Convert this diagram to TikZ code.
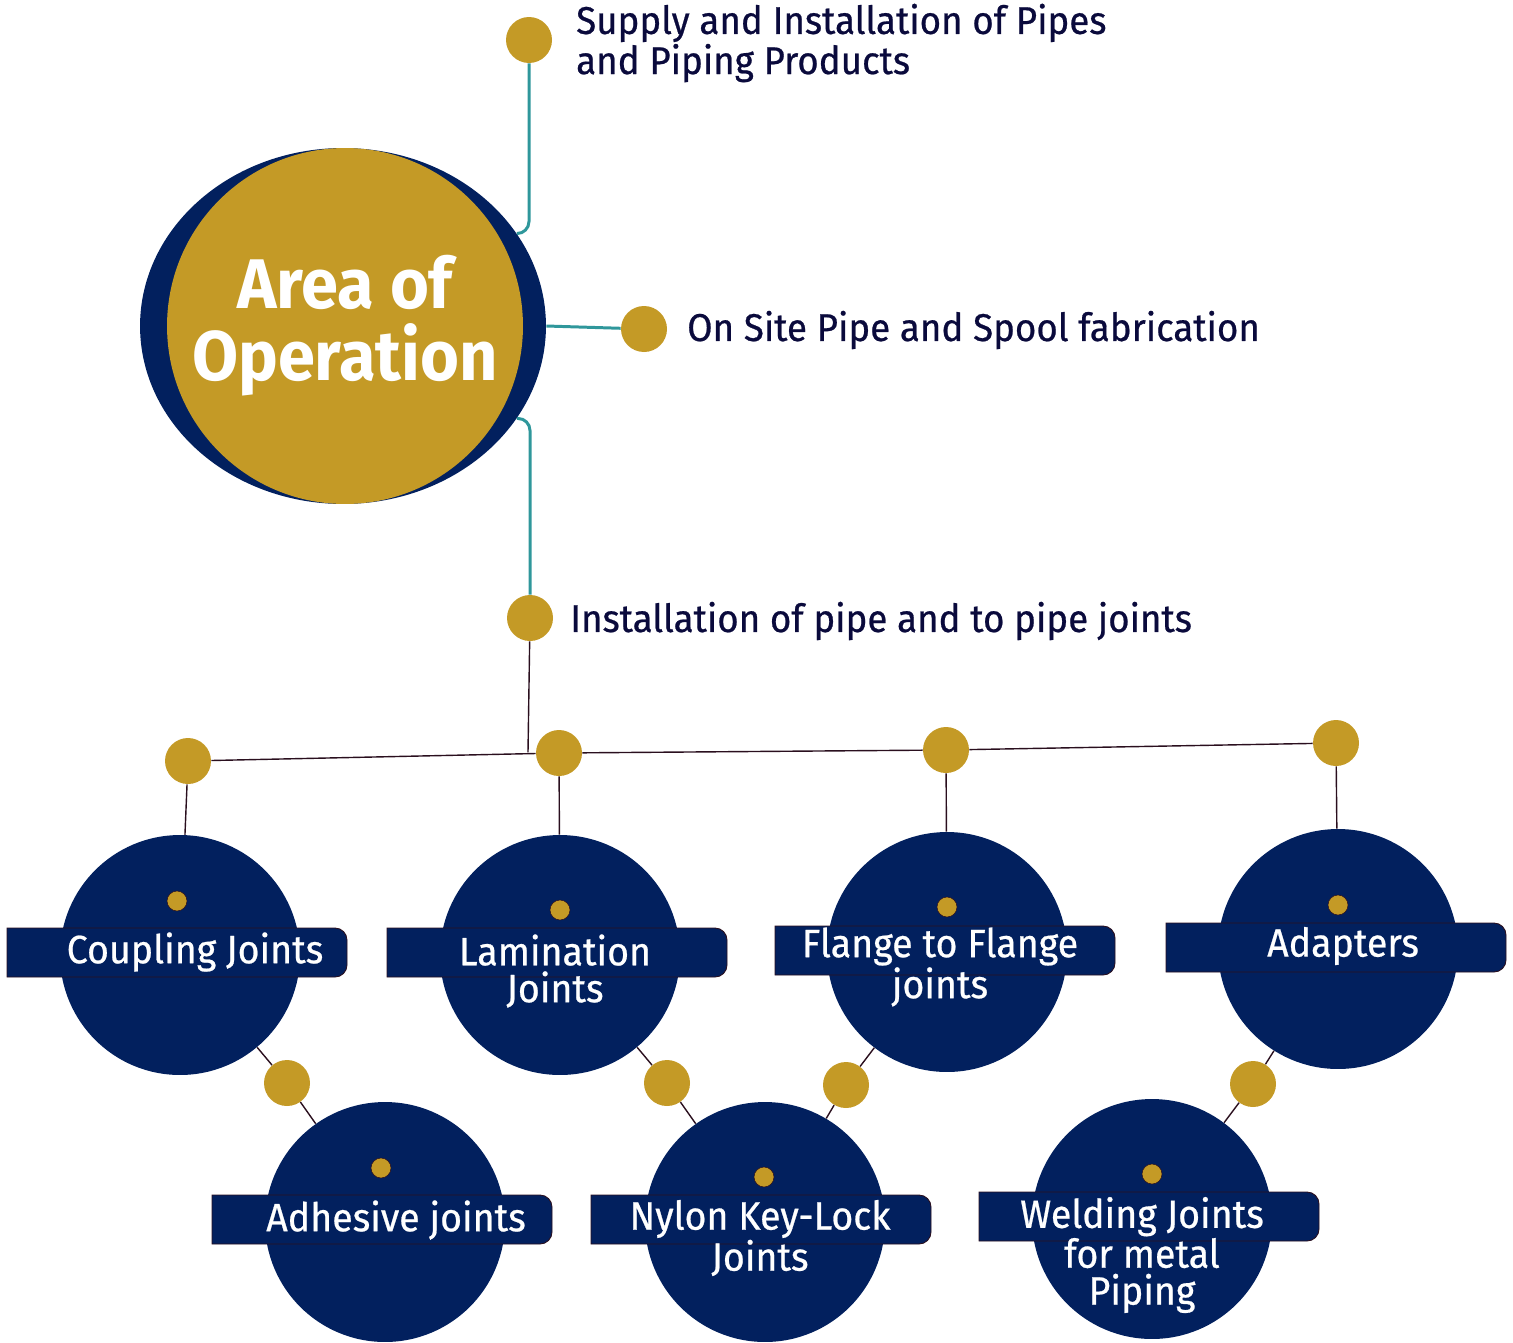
\documentclass[tikz,border=0pt]{standalone}
\usepackage{fontspec}
\setmainfont{Fira Sans}[FakeStretch=0.95,UprightFeatures={FakeBold=0.6}]
\usetikzlibrary{shapes.geometric}
\definecolor{gold}{HTML}{C49A26}
\definecolor{navy}{HTML}{02205E}
\definecolor{pipeteal}{HTML}{2F979B}
\definecolor{ink}{HTML}{0A0A3C}
\definecolor{wire}{HTML}{2A0F1E}
\newcommand\jointbar[2]{\filldraw[bar] (#1,#2) [rounded corners=2.4mm] -- ++(340,0) -- ++(0,49) [sharp corners] -- ++(-340,0) -- cycle;}
\begin{document}
\begin{tikzpicture}[x=0.02cm,y=-0.02cm,
  dot/.style={circle,fill=gold,minimum size=9.2mm,inner sep=0pt},
  pip/.style={circle,fill=gold,draw=wire,line width=0.3pt,minimum size=4mm,inner sep=0pt},
  joint/.style={circle,fill=navy,minimum size=48mm,inner sep=0pt},
  bar/.style={fill=navy,draw=wire,line width=0.5pt},
  tag/.style={text=white,align=center,font=\fontsize{22.5}{21}\selectfont},
  item/.style={text=ink,anchor=west,align=left,font=\fontsize{22}{21.5}\selectfont},
  teal/.style={draw=pipeteal,line width=1.7pt},
  tie/.style={draw=wire,line width=0.8pt}]
\useasboundingbox (0,0) rectangle (1513,1342);
\node[ellipse,fill=navy,minimum width=81.2mm,minimum height=71.2mm,inner sep=0pt] at (343,326) (ring) {};
\node[circle,fill=gold,minimum size=71.2mm,inner sep=0pt,text=white,align=center,
      font=\fontsize{40}{41}\selectfont\bfseries] at (345,326) (core) {Area of\\Operation};
\node[dot] at (529,40) (s1) {};
\node[dot] at (644,329) (s2) {};
\node[dot] at (530,618) (s3) {};
\node[item] at (570,43) (t1) {Supply and Installation of Pipes\\and Piping Products};
\node[item] at (681,330) (t2) {On Site Pipe and Spool fabrication};
\node[item] at (564,621) (t3) {Installation of pipe and to pipe joints};
\draw[teal,rounded corners=2.4mm] (ring.28) -| (s1);
\draw[teal] (ring.east) -- (s2);
\draw[teal,rounded corners=2.4mm] (ring.-28) -| (s3);
\coordinate (hub) at (528,752);
\node[dot] at (188,761) (b1) {};
\node[dot] at (559,753) (b2) {};
\node[dot] at (946,750) (b3) {};
\node[dot] at (1336,743) (b4) {};
\node[joint] at (180,955) (c1) {};
\node[joint] at (560,955) (c2) {};
\node[joint] at (947,952) (c3) {};
\node[joint] at (1338,949) (c4) {};
\node[joint] at (385,1222) (c5) {};
\node[joint] at (765,1222) (c6) {};
\node[joint] at (1152,1219) (c7) {};
\node[pip] at (177,901) (p1) {};
\node[pip] at (560,910) (p2) {};
\node[pip] at (947,907) (p3) {};
\node[pip] at (1338,905) (p4) {};
\node[pip] at (381,1168) (p5) {};
\node[pip] at (764,1177) (p6) {};
\node[pip] at (1152,1174) (p7) {};
\jointbar{7}{928}
\jointbar{387}{928}
\jointbar{775}{926}
\jointbar{1166}{923}
\jointbar{212}{1195}
\jointbar{591}{1195}
\jointbar{979}{1192}
\node[tag] at (195,952) (l1) {Coupling Joints};
\node[tag] at (555,971) (l2) {Lamination\\Joints};
\node[tag] at (940,967) (l3) {Flange to Flange\\joints};
\node[tag] at (1343,946) (l4) {Adapters};
\node[tag] at (396,1220) (l5) {Adhesive joints};
\node[tag] at (760,1238) (l6) {Nylon Key-Lock\\Joints};
\node[tag] at (1142,1255) (l7) {Welding Joints\\for metal\\Piping};
\node[dot] at (287,1083) (e1) {};
\node[dot] at (667,1083) (e2) {};
\node[dot] at (846,1085) (e3) {};
\node[dot] at (1253,1084) (e4) {};
\draw[tie] (s3) -- (hub)
           (b1) -- (b2) -- (b3) -- (b4)
           (b1) -- (c1)
           (b2) -- (c2)
           (b3) -- (c3)
           (b4) -- (c4);
\draw[tie] (c1) -- (e1) -- (c5)
           (c2) -- (e2) -- (c6)
           (c3) -- (e3) -- (c6)
           (c4) -- (e4) -- (c7);
\end{tikzpicture}
\end{document}
